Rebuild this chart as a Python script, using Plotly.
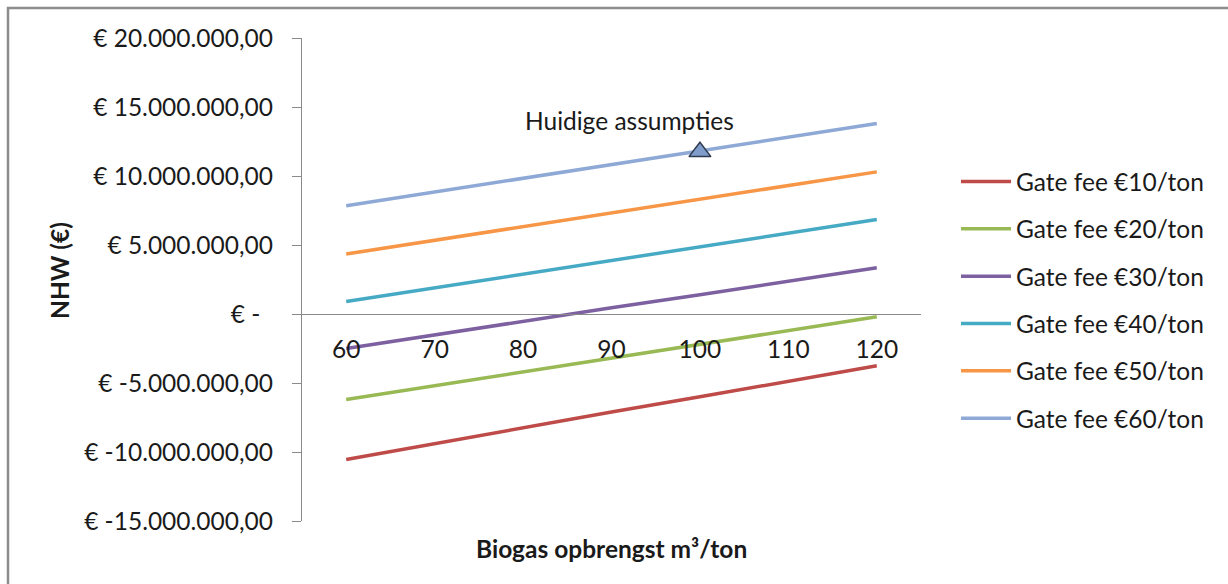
import plotly.graph_objects as go

# ---- data ----
biogas = [60, 70, 80, 90, 100, 110, 120]
series_names = ["Gate fee €10/ton", "Gate fee €20/ton", "Gate fee €30/ton",
                "Gate fee €40/ton", "Gate fee €50/ton", "Gate fee €60/ton"]
fee10 = [-10550000, -9400000, -8200000, -7100000, -6000000, -4900000, -3750000]
fee20 = [-6200000, -5200000, -4200000, -3200000, -2200000, -1200000, -200000]
fee30 = [-2500000, -1500000, -500000, 450000, 1400000, 2400000, 3350000]
fee40 = [900000, 1900000, 2900000, 3900000, 4850000, 5850000, 6850000]
fee50 = [4350000, 5350000, 6350000, 7350000, 8300000, 9300000, 10300000]
fee60 = [7850000, 8850000, 9850000, 10800000, 11800000, 12800000, 13800000]
current_x = [100]
current_y = [11750000]
current_label = "Huidige assumpties"
y_ticks = [-15000000, -10000000, -5000000, 0, 5000000, 10000000, 15000000, 20000000]
y_ticktext = ["€ -15.000.000,00", "€ -10.000.000,00", "€ -5.000.000,00", "€ -\u00a0\u00a0",
              "€ 5.000.000,00", "€ 10.000.000,00", "€ 15.000.000,00", "€ 20.000.000,00"]
x_title = "Biogas opbrengst m³/ton"
y_title = "NHW (€)"

colors = ["#BE4B48", "#98B954", "#7D60A0", "#46AAC5", "#F79646", "#8EA9D6"]
all_series = [fee10, fee20, fee30, fee40, fee50, fee60]

FONT = "Lato"
FS = 24.5
W, H = 1228, 584
L, R, T, B = 302, 921, 38, 521
pw, ph = R - L, B - T

fig = go.Figure()
for i, (name, vals) in enumerate(zip(series_names, all_series)):
    fig.add_trace(go.Scatter(
        x=biogas, y=vals, mode="lines", name=name,
        line=dict(color=colors[i], width=3.5),
        legendgroup=f"g{i}",
    ))

fig.add_trace(go.Scatter(
    x=current_x, y=current_y, mode="markers", showlegend=False,
    marker=dict(symbol="triangle-up", size=19, color="#7F9CCB",
                line=dict(color="#2E3B4E", width=1.5)),
))

fig.add_annotation(x=current_x[0], y=current_y[0], text=current_label,
                   showarrow=False, xshift=-70, yshift=31,
                   xanchor="center", yanchor="middle",
                   font=dict(family=FONT, size=FS, color="#1a1a1a"))

zero_frac = (0 - y_ticks[0]) / (y_ticks[-1] - y_ticks[0])

fig.update_layout(
    width=W, height=H,
    margin=dict(l=L, r=W - R, t=T, b=H - B),
    paper_bgcolor="white", plot_bgcolor="white",
    font=dict(family=FONT, size=FS, color="#1a1a1a"),
    xaxis=dict(
        range=[55, 125], anchor="free", position=zero_frac,
        tickvals=biogas, ticktext=[str(v) for v in biogas],
        showgrid=False, zeroline=False, showline=True,
        linecolor="#8a8a8a", linewidth=1.3, ticks="",
        ticklabelstandoff=13,
        tickfont=dict(family=FONT, size=FS, color="#1a1a1a"),
    ),
    yaxis=dict(
        range=[y_ticks[0], y_ticks[-1]], tickvals=y_ticks, ticktext=y_ticktext,
        showgrid=False, zeroline=False, showline=True,
        linecolor="#8a8a8a", linewidth=1.3,
        ticks="outside", ticklen=9, tickcolor="#8a8a8a", tickwidth=1.3,
        ticklabelstandoff=14,
        tickfont=dict(family=FONT, size=FS, color="#1a1a1a"),
    ),
    legend=dict(
        x=(956 - L) / pw, y=(B - 159) / ph, xanchor="left", yanchor="top",
        font=dict(family=FONT, size=FS, color="#1a1a1a"),
        tracegroupgap=12.5, itemwidth=50, bgcolor="rgba(0,0,0,0)",
    ),
    showlegend=True,
)

fig.add_annotation(xref="paper", yref="paper", x=(611 - L) / pw, y=(B - 548) / ph,
                   text=f"<b>{x_title}</b>", showarrow=False,
                   xanchor="center", yanchor="middle",
                   font=dict(family=FONT, size=FS, color="#1a1a1a"))
fig.add_annotation(xref="paper", yref="paper", x=(59 - L) / pw, y=(B - 271) / ph,
                   text=f"<b>{y_title}</b>", showarrow=False, textangle=-90,
                   xanchor="center", yanchor="middle",
                   font=dict(family=FONT, size=FS, color="#1a1a1a"))

fig.add_shape(type="rect", xref="paper", yref="paper",
              x0=(8 - L) / pw, x1=(1250 - L) / pw,
              y0=(B - 8) / ph, y1=(B - 610) / ph,
              line=dict(color="#8c8c8c", width=2.5), fillcolor="rgba(0,0,0,0)", layer="below")

fig.write_html("out.html")
